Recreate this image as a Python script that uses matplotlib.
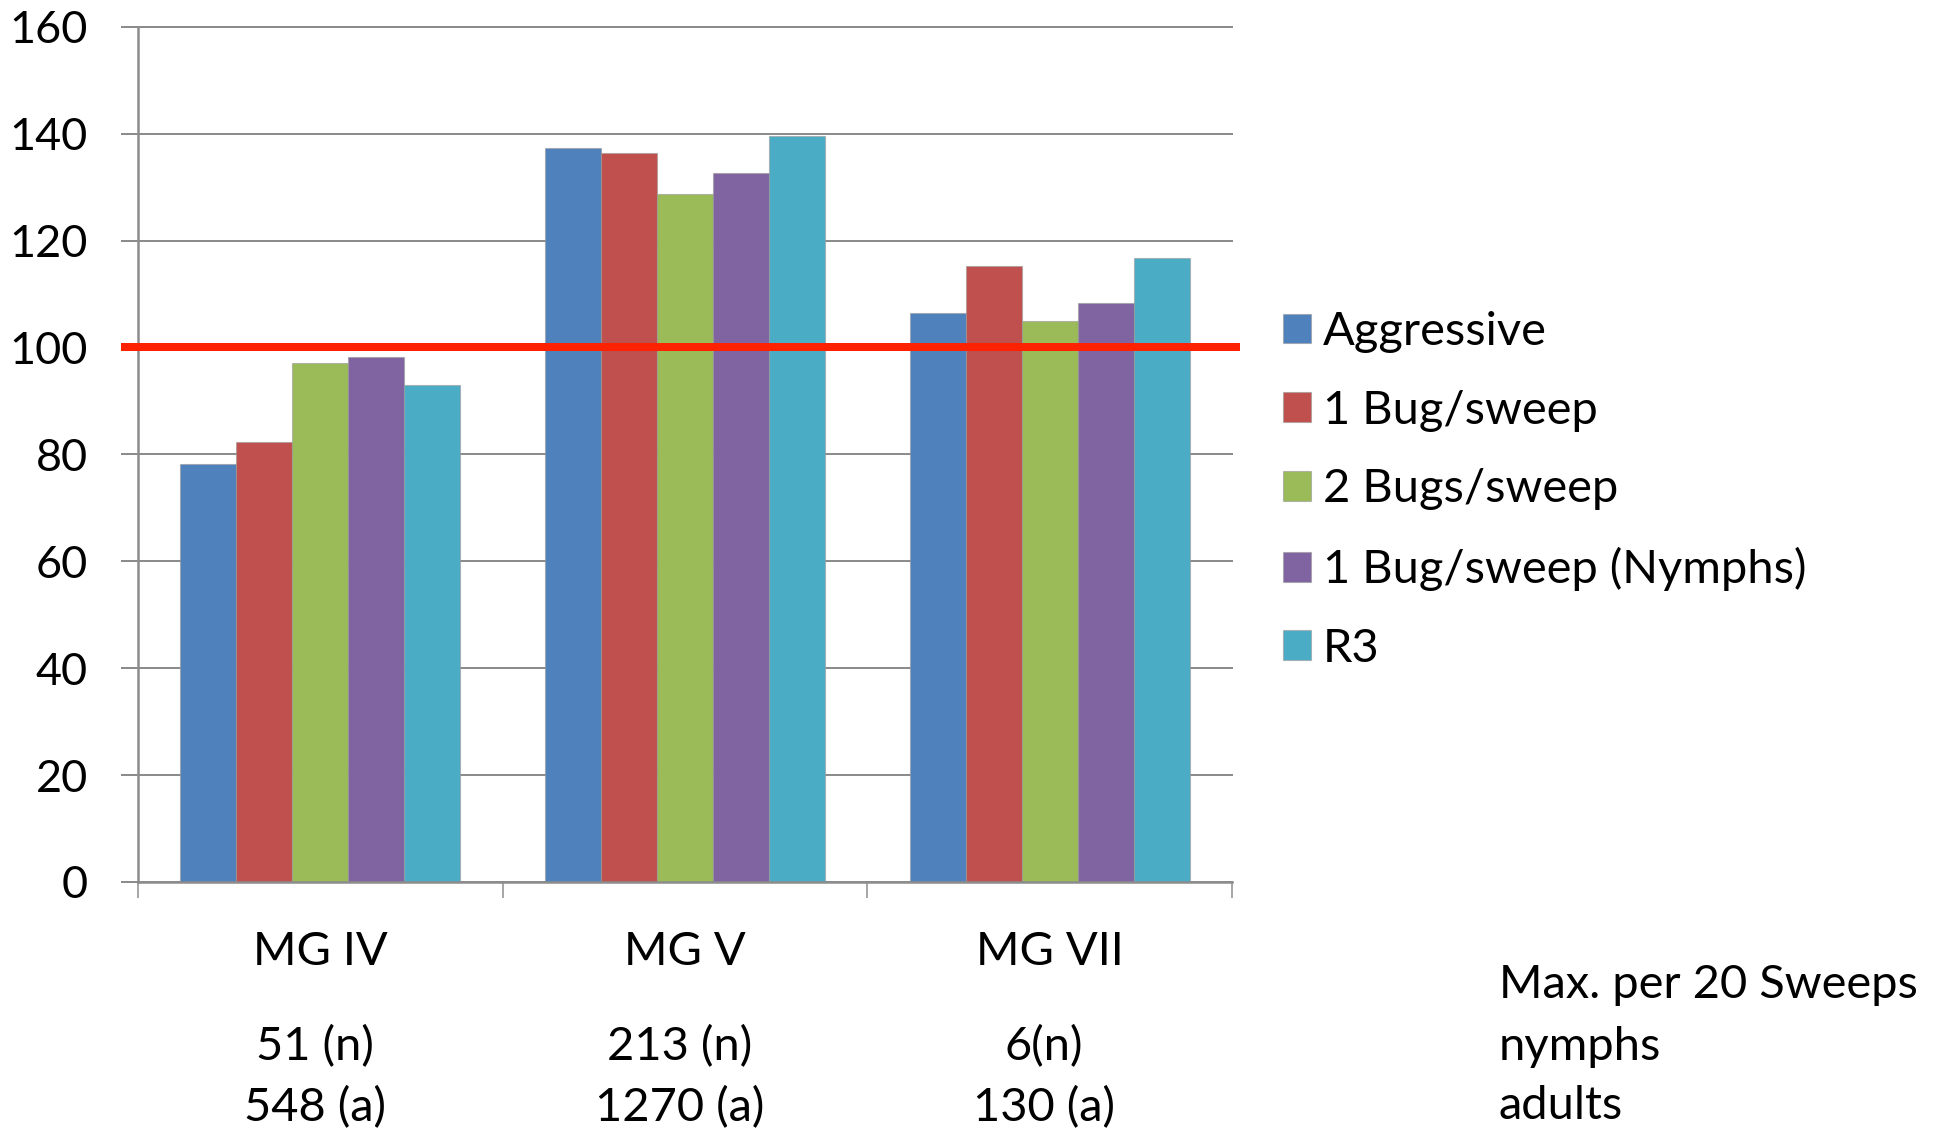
import matplotlib
matplotlib.use("Agg")
import matplotlib.pyplot as plt
from matplotlib.patches import Patch
import matplotlib.transforms as mtransforms
import numpy as np

# ---- data ----
groups = ["MG IV", "MG V", "MG VII"]
nymphs = ["51 (n)", "213 (n)", "6(n)"]
adults = ["548 (a)", "1270 (a)", "130 (a)"]
series = ["Aggressive", "1 Bug/sweep", "2 Bugs/sweep", "1 Bug/sweep (Nymphs)", "R3"]
aggressive = [78.2, 137.4, 106.5]
bug1 = [82.4, 136.4, 115.2]
bugs2 = [97.0, 128.7, 105.0]
bug1_nymphs = [98.3, 132.6, 108.3]
r3 = [92.9, 139.5, 116.7]
threshold = 100
yticks = [0, 20, 40, 60, 80, 100, 120, 140, 160]
side_notes = ["Max. per 20 Sweeps", "nymphs", "adults"]

values = [aggressive, bug1, bugs2, bug1_nymphs, r3]
colors = ["#4F81BD", "#C0504D", "#9BBB59", "#8064A2", "#4BACC6"]

FONT = "Lato"
plt.rcParams["font.family"] = [FONT, "DejaVu Sans"]
GRID = "#8C8C8C"

W, H, DPI = 1934, 1130, 100
fig = plt.figure(figsize=(W / DPI, H / DPI), dpi=DPI)
px = lambda v: v * 72 / DPI  # pixels -> points

left, right, top, bottom = 138, 1232, 26.7, 882
ax = fig.add_axes([left / W, 1 - bottom / H, (right - left) / W, (bottom - top) / H])

x = np.arange(len(groups))
bw = 0.1534
for i, (vals, col, name) in enumerate(zip(values, colors, series)):
    ax.bar(x + (i - 2) * bw, vals, width=bw, color=col, edgecolor=(0.6, 0.6, 0.6, 0.6),
           linewidth=0.8, label=name, zorder=3)

ax.set_xlim(-0.5, 2.5)
ax.set_ylim(0, 160)
ax.set_yticks(yticks)
ax.set_yticklabels([str(t) for t in yticks], fontsize=px(45), color="black")
ax.tick_params(axis="y", direction="out", length=px(17), width=px(2), color=GRID, pad=px(33))

ax.set_xticks([-0.5, 0.5, 1.5, 2.5])
ax.set_xticklabels([])
ax.tick_params(axis="x", direction="out", length=px(16), width=px(1.5), color=GRID)

for s in ["top", "right"]:
    ax.spines[s].set_visible(False)
for s in ["left", "bottom"]:
    ax.spines[s].set_color(GRID)
    ax.spines[s].set_linewidth(px(2.5))
ax.spines["bottom"].set_zorder(4)

ax.yaxis.grid(True, color=GRID, linewidth=px(2), zorder=0)
for gl in ax.get_ygridlines():
    gl.set_clip_on(False)
ax.set_axisbelow(True)

# reference level
trans = mtransforms.blended_transform_factory(ax.transAxes, ax.transData)
ax.plot([-0.0155, 1.007], [threshold, threshold], transform=trans, color="#FF2200",
        linewidth=px(8), clip_on=False, zorder=5, solid_capstyle="butt")

# category labels and counts below the axis
FS = px(47)
for xi, g, n, a in zip(x, groups, nymphs, adults):
    xp = fig.transFigure.inverted().transform(ax.transData.transform((xi, 0)))[0]
    fig.text(xp, 1 - 952 / H, g, ha="center", va="center", fontsize=FS)
    fig.text(xp - 0.003, 1 - 1047 / H, n, ha="center", va="center", fontsize=FS)
    fig.text(xp - 0.003, 1 - 1108 / H, a, ha="center", va="center", fontsize=FS)

for yy, t in zip([985, 1047, 1106], side_notes):
    fig.text(1499 / W, 1 - yy / H, t, ha="left", va="center", fontsize=FS)

# legend
handles = [Patch(facecolor=c, edgecolor=(0.6, 0.6, 0.6, 0.6), linewidth=0.8) for c in colors]
leg = fig.legend(handles, series, loc="upper left", bbox_to_anchor=(1283 / W, 1 - 311 / H),
                 frameon=False, fontsize=FS, handlelength=0.6, handleheight=0.6,
                 handletextpad=0.25, labelspacing=0.78, borderpad=0, borderaxespad=0)

fig.savefig("out.png", dpi=DPI, facecolor="white")
